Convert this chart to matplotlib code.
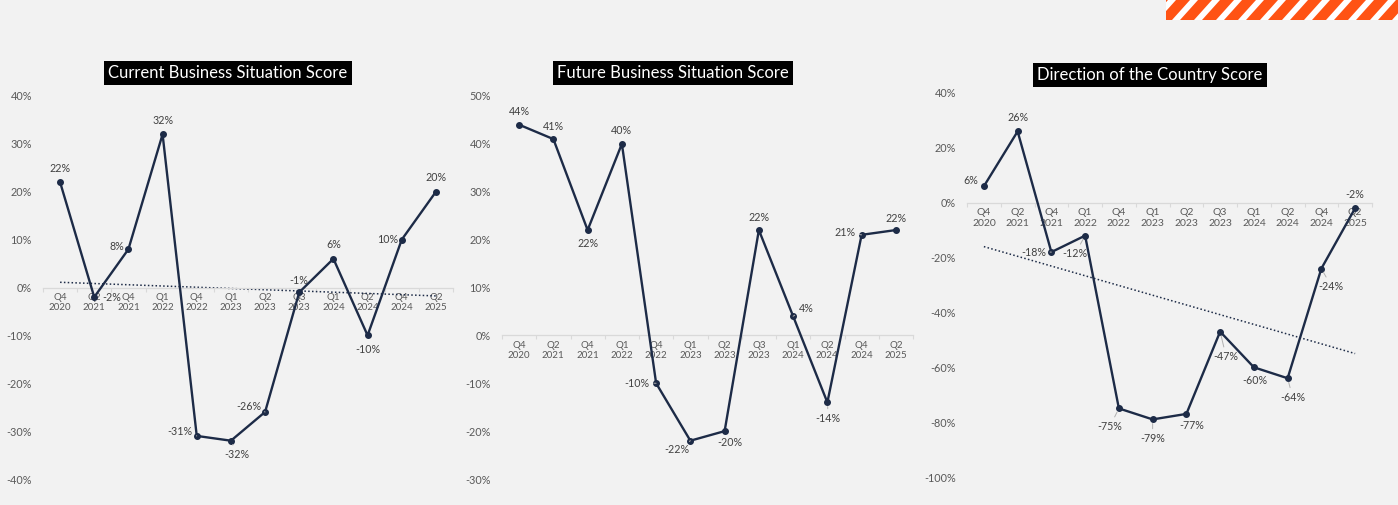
import numpy as np
import matplotlib
matplotlib.use("Agg")
import matplotlib.pyplot as plt
from matplotlib.patches import Polygon

plt.rcParams["font.family"] = ["Lato", "DejaVu Sans"]

quarters = ["Q4\n2020", "Q2\n2021", "Q4\n2021", "Q1\n2022", "Q4\n2022", "Q1\n2023",
            "Q2\n2023", "Q3\n2023", "Q1\n2024", "Q2\n2024", "Q4\n2024", "Q2\n2025"]

current_score = [22, -2, 8, 32, -31, -32, -26, -1, 6, -10, 10, 20]
future_score = [44, 41, 22, 40, -10, -22, -20, 22, 4, -14, 21, 22]
direction_score = [6, 26, -18, -12, -75, -79, -77, -47, -60, -64, -24, -2]

# label centre offsets from each point, in pixels (dx, dy up)
current_off = [(0, 14), (18, 0), (-12, 3), (0, 14), (-17, 4), (6, -14),
               (-16, 5), (0, 12), (0, 14), (0, -14), (-14, 0), (0, 14)]
future_off = [(0, 13), (0, 13), (0, -13), (0, 13), (-19, 0), (-13, -9),
              (5, -11), (0, 13), (13, 8), (1, -16), (-17, 2), (0, 12)]
direction_off = [(-13, 6), (0, 14), (-18, 0), (-10, -18), (-9, -18), (0, -19),
                 (5, -12), (6, -25), (1, -13), (5, -19), (10, -18), (0, 14)]

NAVY = "#1d2b47"
BG = "#f2f2f2"
PX = 0.72  # points per pixel at dpi 100

fig = plt.figure(figsize=(13.98, 5.05), dpi=100, facecolor=BG)


def panel(rect, vals, offs, title, title_xy, ylim, step, trend, xsize):
    ax = fig.add_axes(rect)
    ax.set_facecolor("none")
    x = np.arange(len(vals))
    ax.plot(x, vals, color=NAVY, lw=1.7, marker="o", ms=4, zorder=3)
    if trend:
        k, b = np.polyfit(x, vals, 1)
        ax.plot(x[[0, -1]], k * x[[0, -1]] + b, color=NAVY, ls=(0, (1, 1.5)), lw=1.1, zorder=2)
    for xi, v, (dx, dy) in zip(x, vals, offs):
        arrow = None
        if np.hypot(dx, dy) >= 15:
            arrow = dict(arrowstyle="-", color="#b0b0b0", lw=0.7, shrinkA=1, shrinkB=3)
        ax.annotate(f"{v}%", (xi, v), xytext=(dx * PX, dy * PX), textcoords="offset points",
                    ha="center", va="center", fontsize=7.7, color="#404040", zorder=4,
                    arrowprops=arrow)

    ax.set_xlim(-0.5, len(vals) - 0.5)
    ax.set_ylim(*ylim)
    ticks = np.arange(ylim[0], ylim[1] + 1, step)
    ax.set_yticks(ticks)
    ax.set_yticklabels([f"{t}%" for t in ticks])
    ax.tick_params(axis="y", length=0, pad=8, labelsize=7.8, labelcolor="#595959")

    for s in ["top", "right", "left"]:
        ax.spines[s].set_visible(False)
    ax.spines["bottom"].set_position(("data", 0))
    ax.spines["bottom"].set_color("#d9d9d9")
    ax.spines["bottom"].set_linewidth(0.9)
    ax.set_xticks(np.arange(-0.5, len(vals), 1))
    ax.set_xticklabels([])
    ax.tick_params(axis="x", which="major", length=3, color="#d9d9d9")
    ax.set_xticks(x, quarters, minor=True)
    ax.tick_params(axis="x", which="minor", length=0, pad=4, labelsize=xsize,
                   labelcolor="#595959")

    fig.text(title_xy[0] / 1398, 1 - title_xy[1] / 505, title, ha="center", va="center",
             color="white", fontsize=12,
             bbox=dict(facecolor="black", edgecolor="none", boxstyle="square,pad=0.25"))
    return ax


panel([43 / 1398, 26 / 505, 410 / 1398, 383 / 505], current_score, current_off,
      "Current Business Situation Score", (228, 73), (-40, 40), 10, True, 7)
panel([502 / 1398, 26 / 505, 411 / 1398, 383 / 505], future_score, future_off,
      "Future Business Situation Score", (673, 73), (-30, 50), 10, False, 7)
panel([967 / 1398, 28 / 505, 405 / 1398, 384 / 505], direction_score, direction_off,
      "Direction of the Country Score", (1150, 75), (-100, 40), 20, True, 7.5)

# orange hazard stripes, top right
sax = fig.add_axes([1166 / 1398, 1 - 20 / 505, 232 / 1398, 20 / 505])
sax.set_xlim(0, 232)
sax.set_ylim(0, 20)
sax.axis("off")
sax.add_patch(Polygon([[0, 0], [232, 0], [232, 20], [0, 20]], color="white"))
for s0 in np.arange(-30, 240, 22):
    sax.add_patch(Polygon([[s0, 0], [s0 + 14, 0], [s0 + 32, 20], [s0 + 18, 20]],
                          color="#ff5314", lw=0, clip_on=True))

fig.savefig("out.png", dpi=100, facecolor=BG)
